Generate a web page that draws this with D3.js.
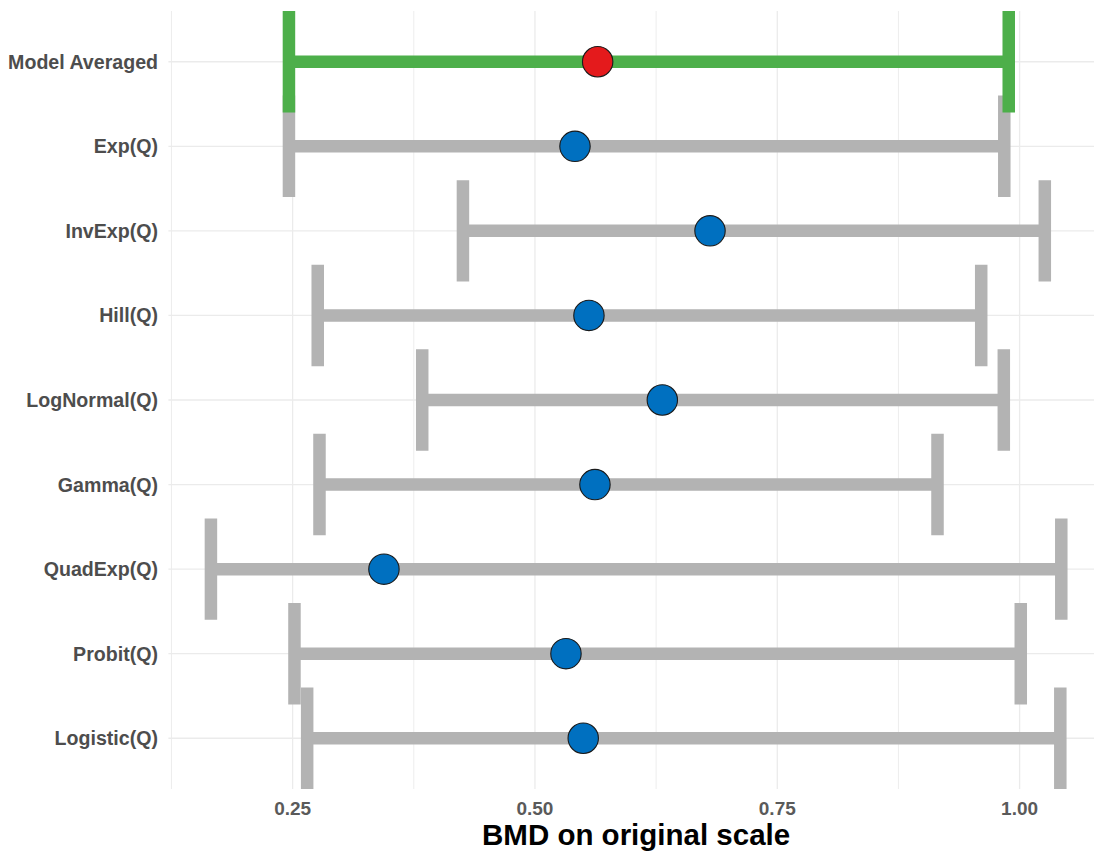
<!DOCTYPE html>
<html>
<head>
<meta charset="utf-8">
<script src="https://cdn.jsdelivr.net/npm/d3@7"></script>
<style>
  html, body { margin: 0; padding: 0; background: #ffffff; }
  svg { display: block; }
  text { font-family: "Liberation Sans", Arial, Helvetica, sans-serif; }
</style>
</head>
<body>
<svg id="chart" width="1094" height="858"></svg>
<script>
// Benchmark dose estimates with lower / upper confidence limits per model
const models = ["Model Averaged", "Exp(Q)", "InvExp(Q)", "Hill(Q)", "LogNormal(Q)",
                "Gamma(Q)", "QuadExp(Q)", "Probit(Q)", "Logistic(Q)"];
const bmd  = [0.5647, 0.5413, 0.6806, 0.5557, 0.6314, 0.5619, 0.3442, 0.5320, 0.5498];
const bmdl = [0.2462, 0.2462, 0.4257, 0.2759, 0.3837, 0.2777, 0.1657, 0.2519, 0.2650];
const bmdu = [0.9888, 0.9842, 1.0260, 0.9604, 0.9837, 0.9153, 1.0430, 1.0012, 1.0420];
const xTicks = [0.25, 0.50, 0.75, 1.00];
const xTitle = "BMD on original scale";

const rows = models.map((m, i) => ({ model: m, bmd: bmd[i], lo: bmdl[i], hi: bmdu[i], avg: i === 0 }));

const svg = d3.select("#chart");
const panel = { left: 168.4, right: 1103.8, top: 11, bottom: 789 };

// x domain: data extent padded by 5% on each side
const lo = d3.min(bmdl), hi = d3.max(bmdu), pad = (hi - lo) * 0.05;
const x = d3.scaleLinear().domain([lo - pad, hi + pad]).range([panel.left, panel.right]);
const y = d3.scalePoint().domain(models).range([panel.top, panel.bottom]).padding(0.6);
const capHalf = y.step() * 0.6;

// grid
const minorTicks = xTicks.map(t => t - 0.125).concat([xTicks[xTicks.length - 1] + 0.125]);
const grid = svg.append("g");
grid.selectAll("line.minor").data(minorTicks).join("line")
  .attr("x1", d => x(d)).attr("x2", d => x(d))
  .attr("y1", panel.top).attr("y2", panel.bottom)
  .attr("stroke", "#EBEBEB").attr("stroke-width", 0.9);
grid.selectAll("line.majorx").data(xTicks).join("line")
  .attr("x1", d => x(d)).attr("x2", d => x(d))
  .attr("y1", panel.top).attr("y2", panel.bottom)
  .attr("stroke", "#EBEBEB").attr("stroke-width", 1.3);
grid.selectAll("line.majory").data(models).join("line")
  .attr("x1", panel.left).attr("x2", panel.right)
  .attr("y1", d => y(d)).attr("y2", d => y(d))
  .attr("stroke", "#EBEBEB").attr("stroke-width", 1.3);

// error bars: individual models first, model average on top
const order = rows.slice(1).concat([rows[0]]);
const bars = svg.append("g");
order.forEach(r => {
  const col = r.avg ? "#4DAF4A" : "#B3B3B3";
  const cy = y(r.model);
  const path = d3.path();
  path.moveTo(x(r.lo), cy); path.lineTo(x(r.hi), cy);
  path.moveTo(x(r.lo), cy - capHalf); path.lineTo(x(r.lo), cy + capHalf);
  path.moveTo(x(r.hi), cy - capHalf); path.lineTo(x(r.hi), cy + capHalf);
  bars.append("path").attr("d", path.toString())
    .attr("fill", "none").attr("stroke", col).attr("stroke-width", 12.5)
    .attr("stroke-linecap", "butt");
});

// point estimates
svg.append("g").selectAll("circle").data(order).join("circle")
  .attr("cx", d => x(d.bmd)).attr("cy", d => y(d.model)).attr("r", 15.2)
  .attr("fill", d => d.avg ? "#E41A1C" : "#0070C0")
  .attr("stroke", "#1a1a1a").attr("stroke-width", 1.1);

// y labels
svg.append("g").selectAll("text").data(models).join("text")
  .attr("x", 158).attr("y", d => y(d)).attr("dy", "0.36em")
  .attr("text-anchor", "end").attr("font-size", 19.6).attr("font-weight", "bold")
  .attr("fill", "#4D4D4D").text(d => d);

// x tick labels
svg.append("g").selectAll("text").data(xTicks).join("text")
  .attr("x", d => x(d)).attr("y", 815)
  .attr("text-anchor", "middle").attr("font-size", 19).attr("font-weight", "bold")
  .attr("fill", "#5A5A5A").text(d => d3.format(".2f")(d));

// x title
svg.append("text")
  .attr("x", (panel.left + panel.right) / 2).attr("y", 845)
  .attr("text-anchor", "middle").attr("font-size", 29.5).attr("font-weight", "bold")
  .attr("fill", "#000").text(xTitle);
</script>
</body>
</html>
